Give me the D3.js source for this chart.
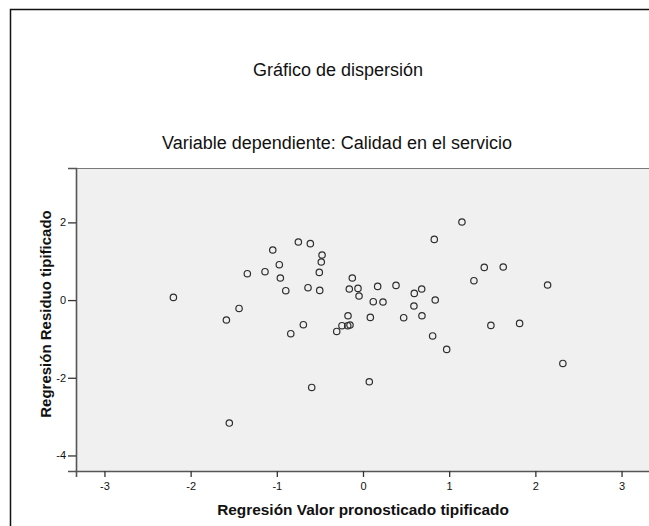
<!DOCTYPE html>
<html>
<head>
<meta charset="utf-8">
<script src="https://cdn.jsdelivr.net/npm/d3@7"></script>
<style>
body{margin:0;background:#fff;}
svg{display:block;font-family:"Liberation Sans",Arial,sans-serif;}
</style>
</head>
<body>
<svg></svg>
<script>
var width=649;
var height=526;

var title="Gráfico de dispersión";
var subtitle="Variable dependiente: Calidad en el servicio";
var xLabel="Regresión Valor pronosticado tipificado";
var yLabel="Regresión Residuo tipificado";

var xTicks=[-3,-2,-1,0,1,2,3];
var yTicks=[-4,-2,0,2];

// regresion valor pronosticado tipificado
var predicted=[-2.20,-1.585,-1.438,-1.342,-1.137,-1.047,-0.971,-0.959,-0.896,-0.750,
	-0.611,-0.475,-0.484,-0.507,-0.638,-0.502,-0.838,-0.692,-0.124,-0.159,
	-0.058,-0.046,0.170,0.383,0.119,0.232,-0.174,0.085,0.472,0.591,
	0.595,0.681,0.838,0.684,0.827,0.808,-0.305,-0.244,-0.177,-0.151,
	0.971,-0.595,0.073,-1.551,1.148,1.407,1.627,1.287,2.142,1.484,
	1.817,2.319];
// regresion residuo tipificado
var residual=[0.069,-0.513,-0.215,0.679,0.731,1.289,0.911,0.568,0.241,1.495,
	1.452,1.161,0.980,0.713,0.319,0.249,-0.866,-0.634,0.568,0.285,
	0.301,0.105,0.352,0.378,-0.042,-0.050,-0.403,-0.446,-0.454,-0.153,
	0.172,0.285,0.002,-0.403,1.562,-0.923,-0.807,-0.660,-0.660,-0.642,
	-1.270,-2.249,-2.102,-3.166,2.010,0.841,0.852,0.499,0.388,-0.652,
	-0.601,-1.631];

var plotLeft=76, plotRight=650, plotTop=168, plotBottom=471;

var svg=d3.select("svg")
	.attr("width",width)
	.attr("height",height);

// outer frame
svg.append("rect")
	.attr("x",10.5)
	.attr("y",9.5)
	.attr("width",700)
	.attr("height",600)
	.attr("fill","#fff")
	.attr("stroke","#111")
	.attr("stroke-width",1.5);

svg.append("text")
	.attr("x",338)
	.attr("y",76)
	.attr("text-anchor","middle")
	.style("font-size","18px")
	.attr("fill","#111")
	.text(title);

svg.append("text")
	.attr("x",337)
	.attr("y",149)
	.attr("text-anchor","middle")
	.style("font-size","18px")
	.attr("fill","#111")
	.text(subtitle);

var scalex=d3.scaleLinear()
	.domain([-3.33,3.33])
	.range([plotLeft,plotRight]);

var scaley=d3.scaleLinear()
	.domain([-4.4,3.4])
	.range([plotBottom,plotTop]);

svg.append("rect")
	.attr("x",plotLeft)
	.attr("y",plotTop)
	.attr("width",plotRight-plotLeft)
	.attr("height",plotBottom-plotTop)
	.attr("fill","#f0f0f0");

svg.append("line")
	.attr("x1",plotLeft)
	.attr("x2",plotRight)
	.attr("y1",plotTop+0.5)
	.attr("y2",plotTop+0.5)
	.attr("stroke","#7a7a7a");

svg.selectAll(".pt")
	.data(predicted)
	.enter()
	.append("circle")
	.classed("pt",true)
	.attr("cx",d=>scalex(d))
	.attr("cy",(d,i)=>scaley(residual[i]))
	.attr("r",3.2)
	.attr("fill","none")
	.attr("stroke","#2e2e2e")
	.attr("stroke-width",1.2);

var xaxis=d3.axisBottom(scalex)
	.tickValues(xTicks)
	.tickSize(6)
	.tickPadding(5)
	.tickFormat(d=>String(d));

var yaxis=d3.axisLeft(scaley)
	.tickValues(yTicks)
	.tickSize(8)
	.tickPadding(2)
	.tickFormat(d=>String(d));

var gx=svg.append("g")
	.attr("transform","translate(0,"+plotBottom+")")
	.call(xaxis);

var gy=svg.append("g")
	.attr("transform","translate("+plotLeft+",0)")
	.call(yaxis);

[gx,gy].forEach(g=>{
	g.select(".domain").attr("stroke","#555").attr("stroke-width",1.6);
	g.selectAll(".tick line").attr("stroke","#333").attr("stroke-width",1.3);
	g.selectAll(".tick text")
		.attr("fill","#111")
		.style("font-size","11px")
		.style("font-family","\"Liberation Sans\",Arial,sans-serif");
});

svg.append("text")
	.attr("x",363)
	.attr("y",515)
	.attr("text-anchor","middle")
	.style("font-size","15.4px")
	.style("font-weight","bold")
	.attr("fill","#111")
	.text(xLabel);

svg.append("text")
	.attr("transform","translate(51,314) rotate(-90)")
	.attr("text-anchor","middle")
	.style("font-size","15px")
	.style("font-weight","bold")
	.attr("fill","#111")
	.text(yLabel);
</script>
</body>
</html>
